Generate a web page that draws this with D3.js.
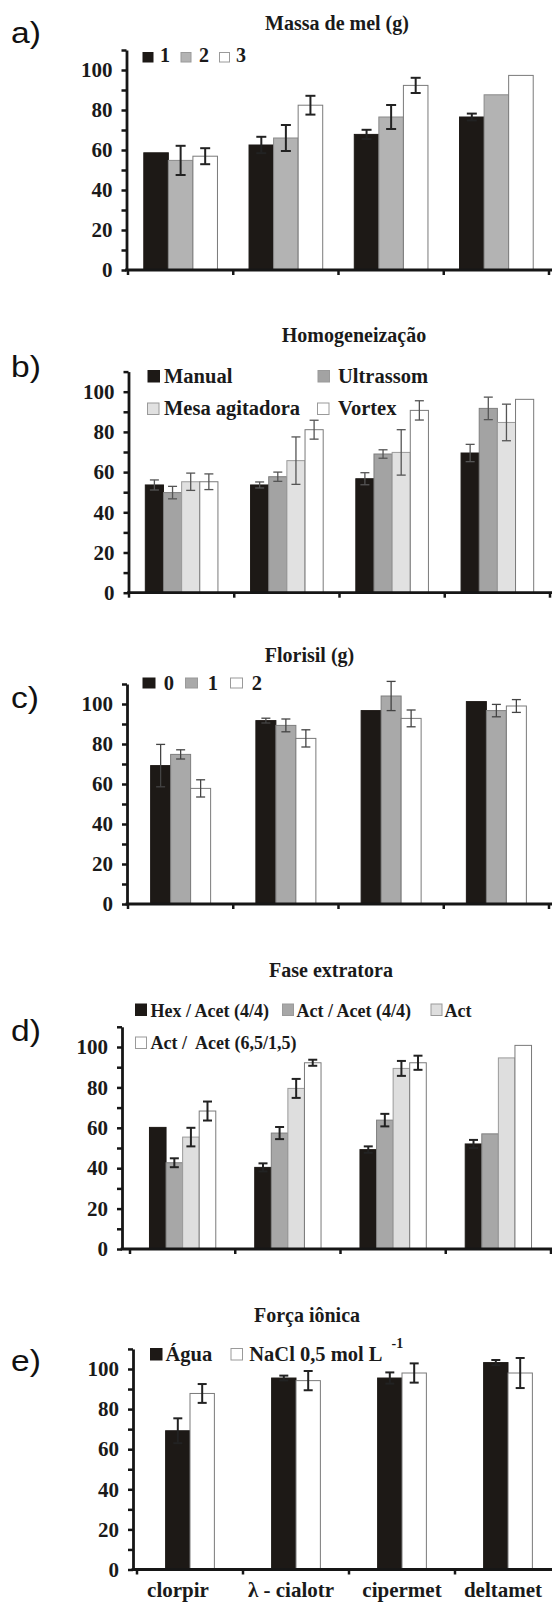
<!DOCTYPE html>
<html><head><meta charset="utf-8">
<script src="https://cdn.jsdelivr.net/npm/d3@7/dist/d3.min.js"></script>
<style>
body{margin:0;background:#fff;}
svg{display:block;}
text{white-space:pre;}
</style></head>
<body>
<svg id="chart" width="552" height="1602"></svg>
<script>
// ---------- data ----------
const categories = ["clorpir", "λ - cialotr", "cipermet", "deltamet"];
const yTickValues = [0, 20, 40, 60, 80, 100];

// a) Massa de mel (g)
const seriesA = ["1", "2", "3"];
const mel1 = [58.6, 62.5, 67.8, 76.5];
const mel1Err = [0, 4.1, 2.3, 1.7];
const mel2 = [54.8, 66.0, 76.5, 87.6];
const mel2Err = [7.3, 6.5, 6.0, 0];
const mel3 = [56.9, 82.4, 92.3, 97.3];
const mel3Err = [4.0, 4.7, 3.8, 0];

// b) Homogeneização
const seriesB = ["Manual", "Ultrassom", "Mesa agitadora", "Vortex"];
const hom1 = [53.6, 53.6, 56.7, 69.5];
const hom1Err = [2.5, 1.5, 3.0, 4.3];
const hom2 = [49.8, 57.7, 69.0, 91.7];
const hom2Err = [3.1, 2.3, 2.1, 5.6];
const hom3 = [55.2, 65.7, 69.8, 84.7];
const hom3Err = [4.3, 11.8, 11.3, 9.1];
const hom4 = [55.2, 81.1, 90.7, 96.2];
const hom4Err = [3.9, 4.7, 4.8, 0];

// c) Florisil (g)
const seriesC = ["0", "1", "2"];
const flo1 = [69.2, 91.7, 96.7, 101.2];
const flo1Err = [10.6, 1.2, 0, 0];
const flo2 = [74.8, 89.3, 104.0, 96.7];
const flo2Err = [2.3, 3.2, 7.3, 3.1];
const flo3 = [57.8, 82.8, 92.8, 99.0];
const flo3Err = [4.3, 4.3, 4.2, 3.2];

// d) Fase extratora
const seriesD = ["Hex / Acet (4/4)", "Act / Acet (4/4)", "Act", "Act /  Acet (6,5/1,5)"];
const ext1 = [60.2, 40.4, 49.2, 52.0];
const ext1Err = [0, 2.0, 1.6, 2.0];
const ext2 = [42.7, 57.4, 63.8, 57.0];
const ext2Err = [2.2, 3.0, 3.1, 0];
const ext3 = [55.4, 79.5, 89.4, 94.6];
const ext3Err = [4.6, 4.7, 3.7, 0];
const ext4 = [68.3, 92.2, 92.2, 100.8];
const ext4Err = [4.7, 1.5, 3.5, 0];

// e) Força iônica
const seriesE = ["Água", "NaCl 0,5 mol L"];
const ion1 = [69.2, 95.5, 95.5, 103.2];
const ion1Err = [6.2, 1.2, 2.8, 1.3];
const ion2 = [87.8, 94.2, 98.0, 98.0];
const ion2Err = [4.7, 4.8, 4.8, 7.5];

// ---------- drawing ----------
const W = 552;
const svg = d3.select("#chart");
const BLACK = "#1d1916";
const SERIF = "'Liberation Serif','Times New Roman',serif";
const labelDx = [-12, -5, 0, -5];

const panels = [
  {
    label: "a)", labelY: 43, title: "Massa de mel (g)", titleX: 337, titleY: 30,
    axisX: 126.5, xRange: [128, 549], y0: 270, y100: 70, pad: 0.30,
    series: seriesA, values: [mel1, mel2, mel3], errs: [mel1Err, mel2Err, mel3Err],
    fills: [BLACK, "#b3b3b3", "#ffffff"], strokes: [BLACK, "#8a8a8a", "#7a7a7a"],
    err: {stroke: "#222", width: 2, cap: 10},
    legend: {size: [10, 9.5], font: 20,
      sq: [[143, 52.5], [181, 52.5], [219.5, 52.5]],
      tx: [[160, 62], [199, 62], [236, 62]]}
  },
  {
    label: "b)", labelY: 377, title: "Homogeneização", titleX: 354, titleY: 342,
    axisX: 128.5, xRange: [129, 550], y0: 592.7, y100: 391.7, pad: 0.31,
    series: seriesB, values: [hom1, hom2, hom3, hom4], errs: [hom1Err, hom2Err, hom3Err, hom4Err],
    fills: [BLACK, "#a3a3a3", "#e1e1e1", "#ffffff"], strokes: [BLACK, "#7e7e7e", "#9a9a9a", "#7a7a7a"],
    err: {stroke: "#555", width: 1.3, cap: 9},
    legend: {size: [11.5, 11.5], font: 20.5,
      sq: [[148, 370.5], [318, 370.5], [147.5, 403], [317.5, 403]],
      tx: [[164, 382.5], [338, 382.5], [164, 415], [338, 415]]}
  },
  {
    label: "c)", labelY: 708, title: "Florisil (g)", titleX: 309.5, titleY: 662,
    axisX: 127, xRange: [128, 549], y0: 904, y100: 704, pad: 0.43,
    series: seriesC, values: [flo1, flo2, flo3], errs: [flo1Err, flo2Err, flo3Err],
    fills: [BLACK, "#a9a9a9", "#ffffff"], strokes: [BLACK, "#7e7e7e", "#7a7a7a"],
    err: {stroke: "#444", width: 1.3, cap: 9},
    legend: {size: [12, 10], font: 20.5,
      sq: [[143, 678], [185.5, 678], [230.5, 678]],
      tx: [[163.7, 689.5], [207.7, 689.5], [251.8, 689.5]]}
  },
  {
    label: "d)", labelY: 1041, title: "Fase extratora", titleX: 331, titleY: 977,
    axisX: 122, xRange: [130, 551], y0: 1249, y100: 1047, pad: 0.37,
    series: seriesD, values: [ext1, ext2, ext3, ext4], errs: [ext1Err, ext2Err, ext3Err, ext4Err],
    fills: [BLACK, "#a7a7a7", "#dedede", "#ffffff"], strokes: [BLACK, "#808080", "#9a9a9a", "#7a7a7a"],
    err: {stroke: "#222", width: 2, cap: 9},
    legend: {size: [11, 11.5], font: 18,
      sq: [[135.5, 1004], [282.5, 1004], [431, 1004], [135.5, 1037]],
      tx: [[150.5, 1017], [296.5, 1017], [444.5, 1017], [150.5, 1048.5]]}
  },
  {
    label: "e)", labelY: 1371, title: "Força iônica", titleX: 307, titleY: 1322,
    axisX: 133, xRange: [137, 561], y0: 1569.5, y100: 1369, pad: 0.54,
    series: seriesE, values: [ion1, ion2], errs: [ion1Err, ion2Err],
    fills: [BLACK, "#ffffff"], strokes: [BLACK, "#7a7a7a"],
    err: {stroke: "#222", width: 2, cap: 9},
    legend: {size: [11.5, 11.5], font: 20.5,
      sq: [[150.5, 1348.5], [231, 1348.5]],
      tx: [[165.5, 1361], [249.3, 1361]]},
    sup: "-1", xLabels: true
  }
];

panels.forEach(p => {
  const g = svg.append("g");
  const yMax = 110;
  const y = d3.scaleLinear().domain([0, yMax])
    .range([p.y0, p.y0 - (p.y0 - p.y100) * yMax / 100]);
  const x0 = d3.scaleBand().domain(categories).range(p.xRange)
    .paddingInner(p.pad).paddingOuter(p.pad / 2);
  const x1 = d3.scaleBand().domain(p.series).range([0, x0.bandwidth()]);

  // panel label
  g.append("text").attr("transform", `translate(11,${p.labelY}) scale(1.12,1)`)
    .attr("font-family", "'Liberation Sans',Arial,sans-serif").attr("font-size", 30)
    .attr("fill", "#111").text(p.label);

  // title
  g.append("text").attr("x", p.titleX).attr("y", p.titleY).attr("text-anchor", "middle")
    .attr("font-family", SERIF).attr("font-weight", "bold").attr("font-size", 20)
    .attr("fill", "#1a1a1a").text(p.title);

  // bars
  p.series.forEach((s, i) => {
    const vals = p.values[i];
    g.append("g").selectAll("rect").data(categories).join("rect")
      .attr("x", c => x0(c) + x1(s))
      .attr("width", x1.bandwidth())
      .attr("y", (c, j) => y(vals[j]))
      .attr("height", (c, j) => y(0) - y(vals[j]))
      .attr("fill", p.fills[i]).attr("stroke", p.strokes[i]).attr("stroke-width", 1);
  });

  // error bars
  p.series.forEach((s, i) => {
    const vals = p.values[i], errs = p.errs[i];
    const eg = g.append("g").attr("stroke", p.err.stroke).attr("stroke-width", p.err.width).attr("fill", "none");
    categories.forEach((c, j) => {
      if (!errs[j]) return;
      const cx = x0(c) + x1(s) + x1.bandwidth() / 2;
      const lo = y(vals[j] - errs[j]), hi = y(vals[j] + errs[j]);
      eg.append("line").attr("x1", cx).attr("x2", cx).attr("y1", lo).attr("y2", hi);
      eg.append("line").attr("x1", cx - p.err.cap / 2).attr("x2", cx + p.err.cap / 2).attr("y1", hi).attr("y2", hi);
      eg.append("line").attr("x1", cx - p.err.cap / 2).attr("x2", cx + p.err.cap / 2).attr("y1", lo).attr("y2", lo);
    });
  });

  // y axis
  const yAxis = d3.axisLeft(y).tickValues(d3.range(0, yMax + 1, 10))
    .tickSize(5).tickSizeOuter(0).tickPadding(9)
    .tickFormat(d => yTickValues.includes(d) ? d : "");
  const ga = g.append("g").attr("transform", `translate(${p.axisX},0)`).call(yAxis);
  ga.select(".domain").attr("stroke", "#161616").attr("stroke-width", 2.8);
  ga.selectAll(".tick line").attr("stroke", "#161616").attr("stroke-width", 2.5);
  ga.selectAll(".tick text").attr("font-family", SERIF).attr("font-weight", "bold")
    .attr("font-size", 21).attr("fill", "#1a1a1a");

  // x axis line + boundary ticks
  g.append("line").attr("x1", p.axisX - 1.4).attr("x2", W).attr("y1", y(0)).attr("y2", y(0))
    .attr("stroke", "#161616").attr("stroke-width", 2.8);
  const step = x0.step(), gap = (step - x0.bandwidth()) / 2;
  const bounds = categories.map(c => x0(c) - gap).concat([x0(categories[categories.length - 1]) + x0.bandwidth() + gap]);
  g.append("g").selectAll("line").data(bounds).join("line")
    .attr("x1", d => d).attr("x2", d => d).attr("y1", y(0)).attr("y2", y(0) + 5)
    .attr("stroke", "#161616").attr("stroke-width", 2.5);

  // category labels (only bottom panel)
  if (p.xLabels) {
    g.append("g").selectAll("text").data(categories).join("text")
      .attr("x", (c, j) => x0(c) + x0.bandwidth() / 2 + labelDx[j]).attr("y", p.y0 + 27)
      .attr("text-anchor", "middle").attr("font-family", SERIF).attr("font-weight", "bold")
      .attr("font-size", 21).attr("fill", "#1a1a1a").text(c => c);
  }

  // legend
  p.series.forEach((s, i) => {
    const [sx, sy] = p.legend.sq[i];
    const [tx, ty] = p.legend.tx[i];
    g.append("rect").attr("x", sx).attr("y", sy)
      .attr("width", p.legend.size[0]).attr("height", p.legend.size[1])
      .attr("fill", p.fills[i]).attr("stroke", i === 0 ? BLACK : "#9a9a9a").attr("stroke-width", 1);
    const t = g.append("text").attr("x", tx).attr("y", ty)
      .attr("font-family", SERIF).attr("font-weight", "bold")
      .attr("font-size", p.legend.font).attr("fill", "#1a1a1a").text(s);
    if (p.sup && i === p.series.length - 1) {
      t.append("tspan").attr("dx", 9).attr("dy", -13).attr("font-size", 14).text(p.sup);
    }
  });
});
</script>
</body></html>
